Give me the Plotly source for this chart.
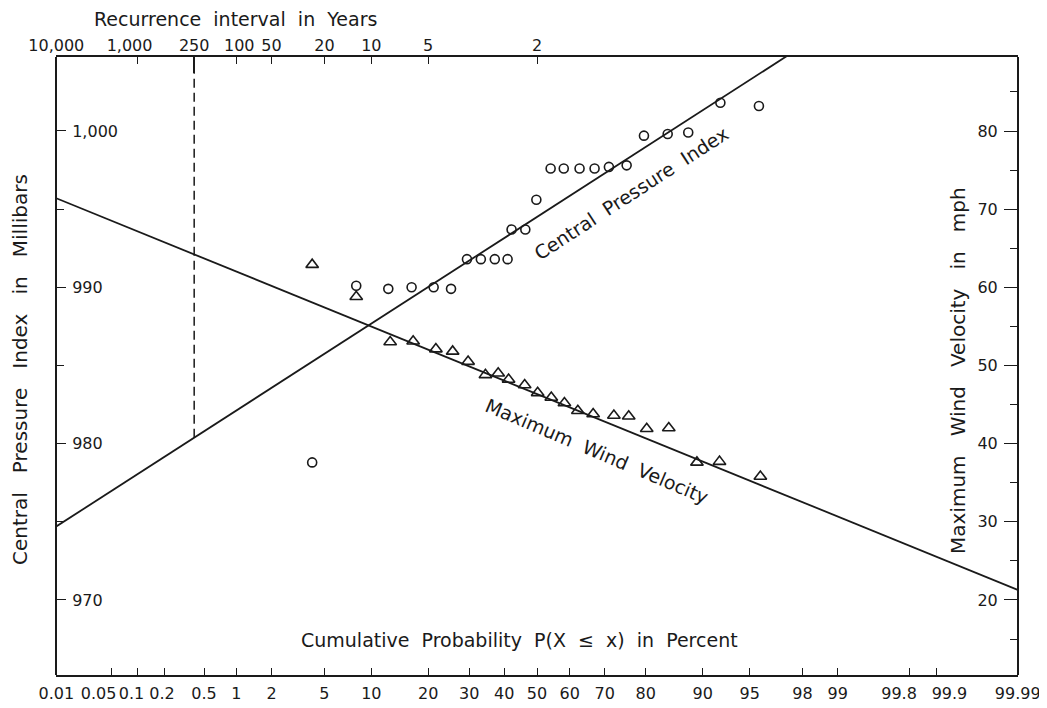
import numpy as np
import plotly.graph_objects as go
from statistics import NormalDist

_nd = NormalDist()


def z(pct):
    """Normal-probability scale: percent -> standard normal deviate."""
    return _nd.inv_cdf(pct / 100.0)


# ---------------- data ----------------
# Central pressure index (circles): plotting position (%) and value (mb)
cpi_prob = [4.1, 8.1, 12.5, 16.6, 21.2, 25.3, 29.4, 33.2, 37.2, 41.0, 42.2, 46.4,
            49.8, 54.2, 58.2, 62.9, 67.2, 71.1, 75.6, 79.6, 84.4, 87.9, 92.2, 95.7]
cpi_mb = [978.8, 990.1, 989.9, 990.0, 990.0, 989.9, 991.8, 991.8, 991.8, 991.8, 993.7, 993.7,
          995.6, 997.6, 997.6, 997.6, 997.6, 997.7, 997.8, 999.7, 999.8, 999.9, 1001.8, 1001.6]

# Maximum wind velocity (triangles): plotting position (%) and value (mph)
wind_prob = [4.1, 8.1, 12.8, 16.9, 21.7, 25.7, 29.7, 34.5, 38.2, 41.3, 46.2, 50.2,
             54.4, 58.4, 62.4, 66.8, 72.4, 76.1, 80.2, 84.6, 89.2, 92.1, 95.8]
wind_mph = [62.9, 58.8, 53.0, 53.1, 52.1, 51.8, 50.5, 48.8, 49.0, 48.2, 47.5, 46.5,
            45.9, 45.2, 44.2, 43.8, 43.6, 43.5, 41.9, 42.0, 37.6, 37.7, 35.8]

# Fitted straight lines (end points on probability paper)
cpi_fit_prob = [0.01, 99.99]
cpi_fit_mb = [974.7, 1014.3]
wind_fit_prob = [0.01, 99.99]
wind_fit_mph = [71.4, 21.3]

# Axis ticks
prob_ticks = [0.01, 0.05, 0.1, 0.2, 0.5, 1, 2, 5, 10, 20, 30, 40, 50, 60, 70, 80,
              90, 95, 98, 99, 99.8, 99.9, 99.99]
prob_labels = ["0.01", "0.05", "0.1", "0.2", "0.5", "1", "2", "5", "10", "20", "30", "40",
               "50", "60", "70", "80", "90", "95", "98", "99", "99.8", "99.9", "99.99"]
recur_years = [10000, 1000, 250, 100, 50, 20, 10, 5, 2]
recur_labels = ["10,000", "1,000", "250", "100", "50", "20", "10", "5", "2"]
design_years = 250

cpi_ticks = [970, 980, 990, 1000]
cpi_labels = ["970", "980", "990", "1,000"]
cpi_minor = [975, 985, 995]
wind_ticks = [20, 30, 40, 50, 60, 70, 80]
wind_minor = [15, 25, 35, 45, 55, 65, 75, 85]

cpi_range = [965.2, 1004.73]
wind_range = [10.4, 89.47]

# ---------------- styling / layout ----------------
FONT = "DejaVu Sans"
INK = "#1a1a1a"
NB = "\u00a0"
TICK_SIZE = 16

# the page body adds an 8 px offset, so the figure is 8 px smaller than the window
FIG_W, FIG_H = 1039, 700
MARGIN = dict(l=48, r=29, t=49, b=33)
PLOT_W = FIG_W - MARGIN["l"] - MARGIN["r"]

xr = [z(0.01) - 0.002, z(99.99) + 0.002]
PX_PER_Z = PLOT_W / (xr[1] - xr[0])

# sideways nudge (px) of crowded labels, as lettered on the original paper
bottom_nudge_px = {"0.05": -13, "0.1": -6, "0.2": -3, "99.8": -10, "99.9": 13}
top_nudge_px = {"1,000": -8, "100": 3}

bottom_label_pos = [z(p) + bottom_nudge_px.get(l, 0) / PX_PER_Z
                    for p, l in zip(prob_ticks, prob_labels)]
top_label_pos = [z(100.0 / t) + top_nudge_px.get(l, 0) / PX_PER_Z
                 for t, l in zip(recur_years, recur_labels)]


def spaced(s, k=2):
    return s.replace(" ", NB * k)


fig = go.Figure()

# fitted lines
fig.add_trace(go.Scatter(x=[z(p) for p in cpi_fit_prob], y=cpi_fit_mb, mode="lines",
                         line=dict(color=INK, width=1.8), xaxis="x", yaxis="y",
                         showlegend=False, hoverinfo="skip"))
fig.add_trace(go.Scatter(x=[z(p) for p in wind_fit_prob], y=wind_fit_mph, mode="lines",
                         line=dict(color=INK, width=1.8), xaxis="x", yaxis="y2",
                         showlegend=False, hoverinfo="skip"))

# design (250-year) dashed line from the CPI line up to the top axis
zd = z(100.0 / design_years)
cpi_at_design = float(np.interp(zd, [z(p) for p in cpi_fit_prob], cpi_fit_mb))
fig.add_trace(go.Scatter(x=[zd, zd], y=[cpi_at_design, cpi_range[1]], mode="lines",
                         line=dict(color=INK, width=1.5, dash="9px,5px"),
                         xaxis="x", yaxis="y", showlegend=False, hoverinfo="skip"))

# observations
fig.add_trace(go.Scatter(x=[z(p) for p in cpi_prob], y=cpi_mb, mode="markers",
                         marker=dict(symbol="circle-open", size=9, color=INK,
                                     line=dict(width=1.6, color=INK)),
                         xaxis="x", yaxis="y", showlegend=False))
fig.add_trace(go.Scatter(x=[z(p) for p in wind_prob], y=wind_mph, mode="markers",
                         marker=dict(symbol="triangle-up-open", size=11, color=INK,
                                     line=dict(width=1.6, color=INK)),
                         xaxis="x", yaxis="y2", showlegend=False))

# invisible traces so the extra x axes get drawn
for ax in ("x2", "x3", "x4", "x5"):
    fig.add_trace(go.Scatter(x=[zd], y=[cpi_range[0]], mode="markers",
                             marker=dict(opacity=0), xaxis=ax, yaxis="y",
                             showlegend=False, hoverinfo="skip"))

tickfont = dict(family=FONT, size=TICK_SIZE, color=INK)
xbase = dict(range=xr, tickmode="array", showgrid=False, zeroline=False,
             tickangle=0, automargin=False, tickfont=tickfont)

fig.update_layout(
    width=FIG_W, height=FIG_H, margin=MARGIN,
    paper_bgcolor="white", plot_bgcolor="white",
    font=dict(family=FONT, color=INK),
    # bottom probability axis: line + tick marks
    xaxis=dict(**xbase, tickvals=[z(p) for p in prob_ticks], showticklabels=False,
               ticks="inside", ticklen=7, tickwidth=1.2, tickcolor=INK,
               showline=True, linecolor=INK, linewidth=2),
    # bottom probability axis: labels
    xaxis4=dict(**xbase, overlaying="x", side="bottom", anchor="y",
                tickvals=bottom_label_pos, ticktext=prob_labels, ticks="",
                showline=False, ticklabelstandoff=7),
    # top recurrence-interval axis: line + tick marks
    xaxis2=dict(**xbase, overlaying="x", side="top", anchor="y",
                tickvals=[z(100.0 / t) for t in recur_years], showticklabels=False,
                ticks="inside", ticklen=7, tickwidth=1.2, tickcolor=INK,
                showline=True, linecolor=INK, linewidth=2),
    # top recurrence-interval axis: labels
    xaxis5=dict(**xbase, overlaying="x", side="top", anchor="y",
                tickvals=top_label_pos, ticktext=recur_labels, ticks="",
                showline=False, ticklabelstandoff=2),
    # long design tick at 250 years
    xaxis3=dict(**xbase, overlaying="x", side="top", anchor="y",
                tickvals=[zd], ticktext=[""], ticks="inside", ticklen=16, tickwidth=1.5,
                tickcolor=INK, showticklabels=False, showline=False),
    # left axis drawn as a free axis whose ticks and labels face into the plot
    yaxis=dict(range=cpi_range, tickmode="array", tickvals=cpi_ticks, ticktext=cpi_labels,
               side="right", anchor="free", position=0,
               ticks="outside", ticklen=9, tickwidth=1.2, tickcolor=INK,
               ticklabelstandoff=3, showline=True, linecolor=INK, linewidth=2,
               showgrid=False, zeroline=False, tickfont=tickfont, automargin=False,
               minor=dict(tickvals=cpi_minor, ticks="outside", ticklen=7,
                          tickcolor=INK, tickwidth=1.2)),
    yaxis2=dict(range=wind_range, overlaying="y", tickmode="array", tickvals=wind_ticks,
                side="left", anchor="free", position=1,
                ticks="outside", ticklen=13, tickwidth=1.2, tickcolor=INK,
                ticklabelstandoff=3, showline=True, linecolor=INK, linewidth=2,
                showgrid=False, zeroline=False, tickfont=tickfont, automargin=False,
                minor=dict(tickvals=wind_minor, ticks="outside", ticklen=7,
                           tickcolor=INK, tickwidth=1.2)),
)

titlefont = dict(family=FONT, size=20, color=INK)
common = dict(showarrow=False, xanchor="center", yanchor="middle")
annotations = [
    dict(text=spaced("Central Pressure Index in Millibars", 3), xref="paper", yref="paper",
         x=-0.0374, y=0.4935, textangle=-90, font=titlefont, **common),
    dict(text=spaced("Maximum Wind Velocity in mph", 3), xref="paper", yref="paper",
         x=0.9376, y=0.4935, textangle=-90, font=titlefont, **common),
    dict(text=spaced("Recurrence interval in Years"), xref="paper", yref="paper",
         x=0.187, y=1.062, font=dict(family=FONT, size=19, color=INK), **common),
    dict(text=spaced("Cumulative Probability P(X ≤ x) in Percent"), xref="paper",
         yref="paper", x=0.482, y=0.0566, font=dict(family=FONT, size=19, color=INK),
         **common),
    dict(text=spaced("Central Pressure Index"), xref="x", yref="y",
         x=z(76.8), y=996.0, textangle=-33,
         font=dict(family=FONT, size=19, color=INK), **common),
    dict(text=spaced("Maximum Wind Velocity"), xref="x", yref="y2",
         x=z(67.8), y=39.1, textangle=23,
         font=dict(family=FONT, size=19, color=INK), **common),
]
fig.update_layout(annotations=annotations)

fig.write_html("out.html")
